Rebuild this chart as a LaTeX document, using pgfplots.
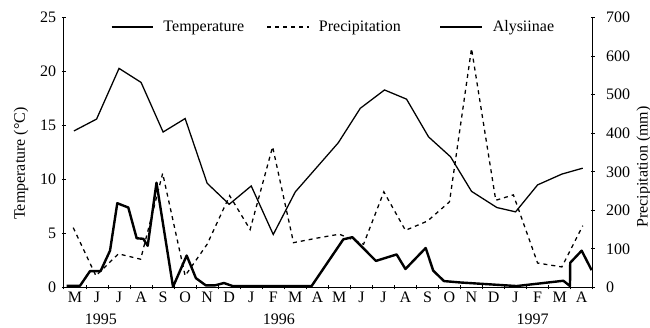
\documentclass[border=0pt]{standalone}
\usepackage{fontspec}
\setmainfont{Liberation Serif}
\usepackage{pgfplots}
\pgfplotsset{compat=1.18}
\pgfplotsset{
  every axis/.append style={
    scale only axis, width=330.4pt, height=168.5pt,
    xmin=0, xmax=24,
    tick align=outside, major tick length=2.6pt,
    every tick/.style={black, line width=0.6pt},
    /pgf/number format/assume math mode=true,
    tick label style={font=\fontsize{10}{12}\selectfont},
    label style={font=\fontsize{10}{12}\selectfont},
  },
}
\begin{document}
\fontsize{10}{12}\selectfont
\begin{tikzpicture}
\begin{axis}[
  clip mode=individual,
  ymin=0, ymax=25,
  axis x line=bottom, axis y line=left,
  axis line style={-, line width=0.6pt},
  xtick={0,...,24}, x tick label as interval,
  xticklabels={M,J,J,A,S,O,N,D,J,F,M,A,M,J,J,A,S,O,N,D,J,F,M,A},
  xticklabel style={yshift=2pt},
  ytick={0,5,...,25},
  ylabel={Temperature (°C)},
  every axis y label/.style={at={(axis description cs:-0.0813,0.459)}, rotate=90, anchor=center},
  legend style={at={(axis description cs:0.511,0.9655)}, anchor=center, draw=none, fill=none,
    font=\fontsize{10}{12}\selectfont, legend columns=3,
    /tikz/every odd column/.append style={column sep=4pt},
    /tikz/column 2/.append style={column sep=12pt},
    /tikz/column 4/.append style={column sep=22pt}},
  legend image code/.code={\draw[#1] (0pt,0pt) -- (26pt,0pt);},
]
\addplot[black, line width=0.8pt] coordinates {
(0.45,14.5) (1.48,15.6) (2.5,20.3) (3.5,19.0) (4.5,14.4) (5.5,15.65) (6.5,9.65)
(7.5,7.7) (8.5,9.4) (9.5,4.9) (10.5,8.85) (12.45,13.4) (13.45,16.6) (14.55,18.3)
(15.55,17.45) (16.55,13.95) (17.55,12.1) (18.5,8.9) (19.65,7.4) (20.5,7.0)
(21.5,9.5) (22.6,10.5) (23.55,11.05)
};
\addlegendentry{Temperature}
\addlegendimage{black, line width=0.8pt, dash pattern=on 2.5pt off 2.5pt}
\addlegendentry{Precipitation}
\addplot[black, line width=1.5pt, line join=round] coordinates {
(0.12,0.15) (0.73,0.15) (1.18,1.5) (1.66,1.5) (2.09,3.4) (2.42,7.8) (2.92,7.4)
(3.3,4.55) (3.6,4.5) (3.8,3.85) (4.2,9.7) (4.95,0.05) (5.57,2.95) (5.99,0.85)
(6.44,0.18) (6.85,0.18) (7.26,0.4) (7.66,0.12) (11.24,0.12) (12.68,4.45)
(13.09,4.65) (14.16,2.45) (15.1,3.05) (15.5,1.7) (16.42,3.65) (16.76,1.55)
(17.25,0.58) (18.0,0.45) (20.55,0.12) (22.67,0.61) (22.97,0.12) (22.98,2.28)
(23.5,3.4) (23.95,1.6)
};
\addlegendentry{Alysiinae}
\node[font=\fontsize{10}{12}\selectfont] at (axis cs:1.68,0) [yshift=-20pt] {1995};
\node[font=\fontsize{10}{12}\selectfont] at (axis cs:9.76,0) [yshift=-20pt] {1996};
\node[font=\fontsize{10}{12}\selectfont] at (axis cs:21.27,0) [yshift=-20pt] {1997};
\end{axis}
\begin{axis}[
  ymin=0, ymax=700,
  axis y line=right, axis x line=none,
  axis line style={-, line width=0.6pt},
  ytick={0,100,...,700},
  yticklabel style={xshift=3.5pt},
  ylabel={Precipitation (mm)},
  every axis y label/.style={at={(axis description cs:1.0968,0.446)}, rotate=90, anchor=center},
]
\addplot[black, line width=0.8pt, dash pattern=on 2.5pt off 2.5pt] coordinates {
(0.42,155) (1.45,30) (2.47,87) (3.48,73) (4.48,296) (5.5,30) (6.5,112)
(7.52,238) (8.45,150) (9.47,365) (10.42,116) (11.5,128) (12.5,138) (13.6,112)
(14.52,248) (15.5,148) (16.5,172) (17.5,222) (18.5,620) (19.6,226) (20.4,240)
(21.5,63) (22.6,53) (23.55,160)
};
\coordinate (BBll) at (axis description cs:-0.1210,-0.1473);
\coordinate (BBur) at (axis description cs:1.1084,1.0657);
\end{axis}
\pgfresetboundingbox
\useasboundingbox (BBll) rectangle (BBur);
\end{tikzpicture}
\end{document}
